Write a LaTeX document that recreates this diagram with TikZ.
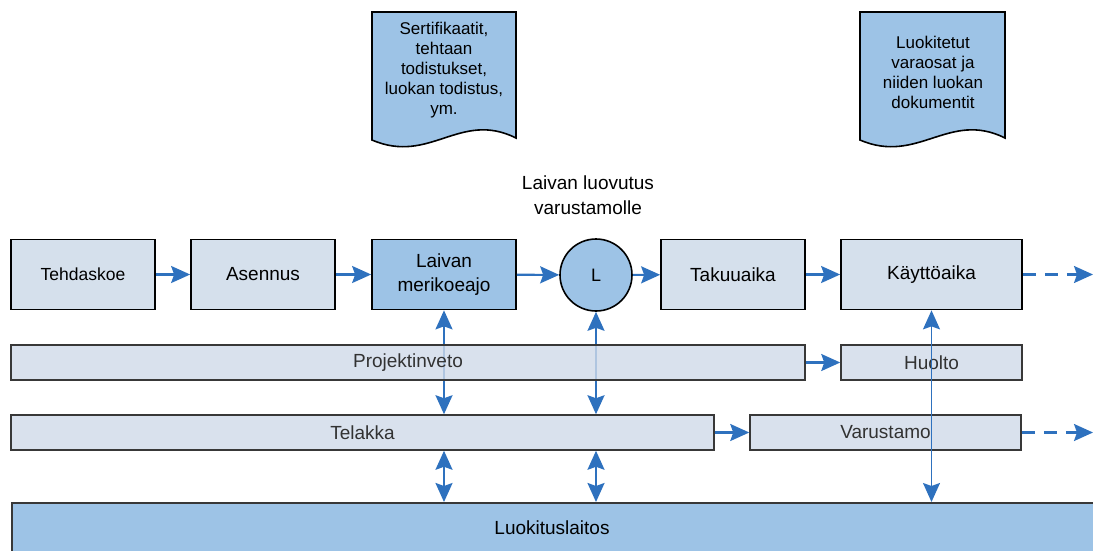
\documentclass[tikz,border=0pt]{standalone}
\usepackage{fontspec}
\setmainfont{Liberation Sans}
\usetikzlibrary{arrows.meta}
\definecolor{boxfill}{RGB}{213,224,236}
\definecolor{barfill}{RGB}{208,218,233}
\definecolor{bluefill}{RGB}{157,195,230}
\definecolor{flow}{RGB}{46,113,190}
\definecolor{bartext}{RGB}{50,50,50}
\pgfdeclarelayer{back}
\pgfsetlayers{back,main}
\tikzset{
  stagebox/.style={draw=black, line width=1.7pt, fill=boxfill, minimum width=144pt,
    minimum height=70pt, inner sep=0pt, align=center, font=\fontsize{19}{24}\selectfont},
  bar/.style={draw=black!78, line width=1.5pt, fill=barfill, fill opacity=0.8, text opacity=1,
    minimum height=35pt, inner sep=0pt, text=bartext, font=\fontsize{19}{23}\selectfont},
  docshape/.style={draw=black, line width=1.6pt, fill=bluefill},
  doctext/.style={align=center, inner sep=0pt, font=\fontsize{17}{20}\selectfont},
  flowarrow/.style={draw=flow, line width=2.1pt, -{Stealth[length=19pt,width=17pt,inset=3pt]}},
  twoway/.style={draw=flow, line width=2.1pt,
    {Stealth[length=19pt,width=17pt,inset=3pt]}-{Stealth[length=19pt,width=17pt,inset=3pt]}},
  dashflow/.style={flowarrow, dash pattern=on 13pt off 9pt}
}
\begin{document}
\begin{tikzpicture}[x=1pt,y=-1pt]
\useasboundingbox (0,0) rectangle (1093,551);

% documents at the top
\draw[docshape] (372,140) -- (372,12) -- (516,12) -- (516,138)
  .. controls (460,110) and (430,165) .. (372,140) -- cycle;
\node[doctext] (certs) at (444,70) {Sertifikaatit,\\tehtaan\\todistukset,\\luokan todistus,\\ym.};
\draw[docshape] (860,140) -- (860,12) -- (1005,12) -- (1005,138)
  .. controls (949,110) and (918,165) .. (860,140) -- cycle;
\node[doctext] (spares) at (933,72) {Luokitetut\\varaosat ja\\niiden luokan\\dokumentit};

\node[align=center, font=\fontsize{19}{25}\selectfont] (handover) at (588,195) {Laivan luovutus\\varustamolle};

% main stages
\node[stagebox, font=\fontsize{17.5}{22}\selectfont] (tehd) at (83,274.5) {Tehdaskoe};
\node[stagebox] (ase) at (263,274.5) {Asennus};
\node[stagebox, fill=bluefill] (meri) at (444,274.5) {Laivan\\merikoeajo};
\node[circle, draw=black, line width=1.6pt, fill=bluefill, minimum size=72pt, inner sep=0pt,
  font=\fontsize{18}{22}\selectfont] (L) at (596,275) {L};
\node[stagebox] (tak) at (733,274.5) {Takuuaika};
\node[stagebox, minimum width=181pt] (kay) at (931.5,274.5) {Käyttöaika};

% parties
\node[bar, minimum width=794pt] (proj) at (408,362.5) {Projektinveto};
\node[bar, minimum width=181pt] (huolto) at (931.5,362.5) {Huolto};
\node[bar, minimum width=703pt] (tel) at (362.5,432.5) {Telakka};
\node[bar, minimum width=271pt] (var) at (885.5,432.5) {Varustamo};
\node[draw=black!78, line width=1.5pt, fill=bluefill, minimum width=1090pt, minimum height=54pt,
  inner sep=0pt, anchor=north west] (luok) at (11,502) {};
\node[font=\fontsize{19}{23}\selectfont] (luoktext) at (552,528) {Luokituslaitos};

% flow along the top row
\draw[flowarrow] (tehd) -- (ase);
\draw[flowarrow] (ase) -- (meri);
\draw[flowarrow] (meri) -- (L);
\draw[flowarrow] (L) -- (tak);
\draw[flowarrow] (tak) -- (kay);
\coordinate (kayend) at (1093,274.5);
\draw[dashflow] (kay.east) -- (kayend);

% flow between parties
\draw[flowarrow] (proj) -- (huolto);
\draw[flowarrow] (tel) -- (var);
\coordinate (varend) at (1093,432.5);
\draw[dashflow] (var.east) -- (varend);

% links passing behind the bars
\begin{pgfonlayer}{back}
\draw[twoway] (meri.south) -- (meri.south |- tel.north);
\draw[twoway] (L.south) -- (L.south |- tel.north);
\end{pgfonlayer}
\draw[twoway] (meri.south |- tel.south) -- (meri.south |- luok.north);
\draw[twoway] (L.south |- tel.south) -- (L.south |- luok.north);
\draw[twoway, line width=1.6pt] (kay.south) -- (kay.south |- luok.north);
\end{tikzpicture}
\end{document}
